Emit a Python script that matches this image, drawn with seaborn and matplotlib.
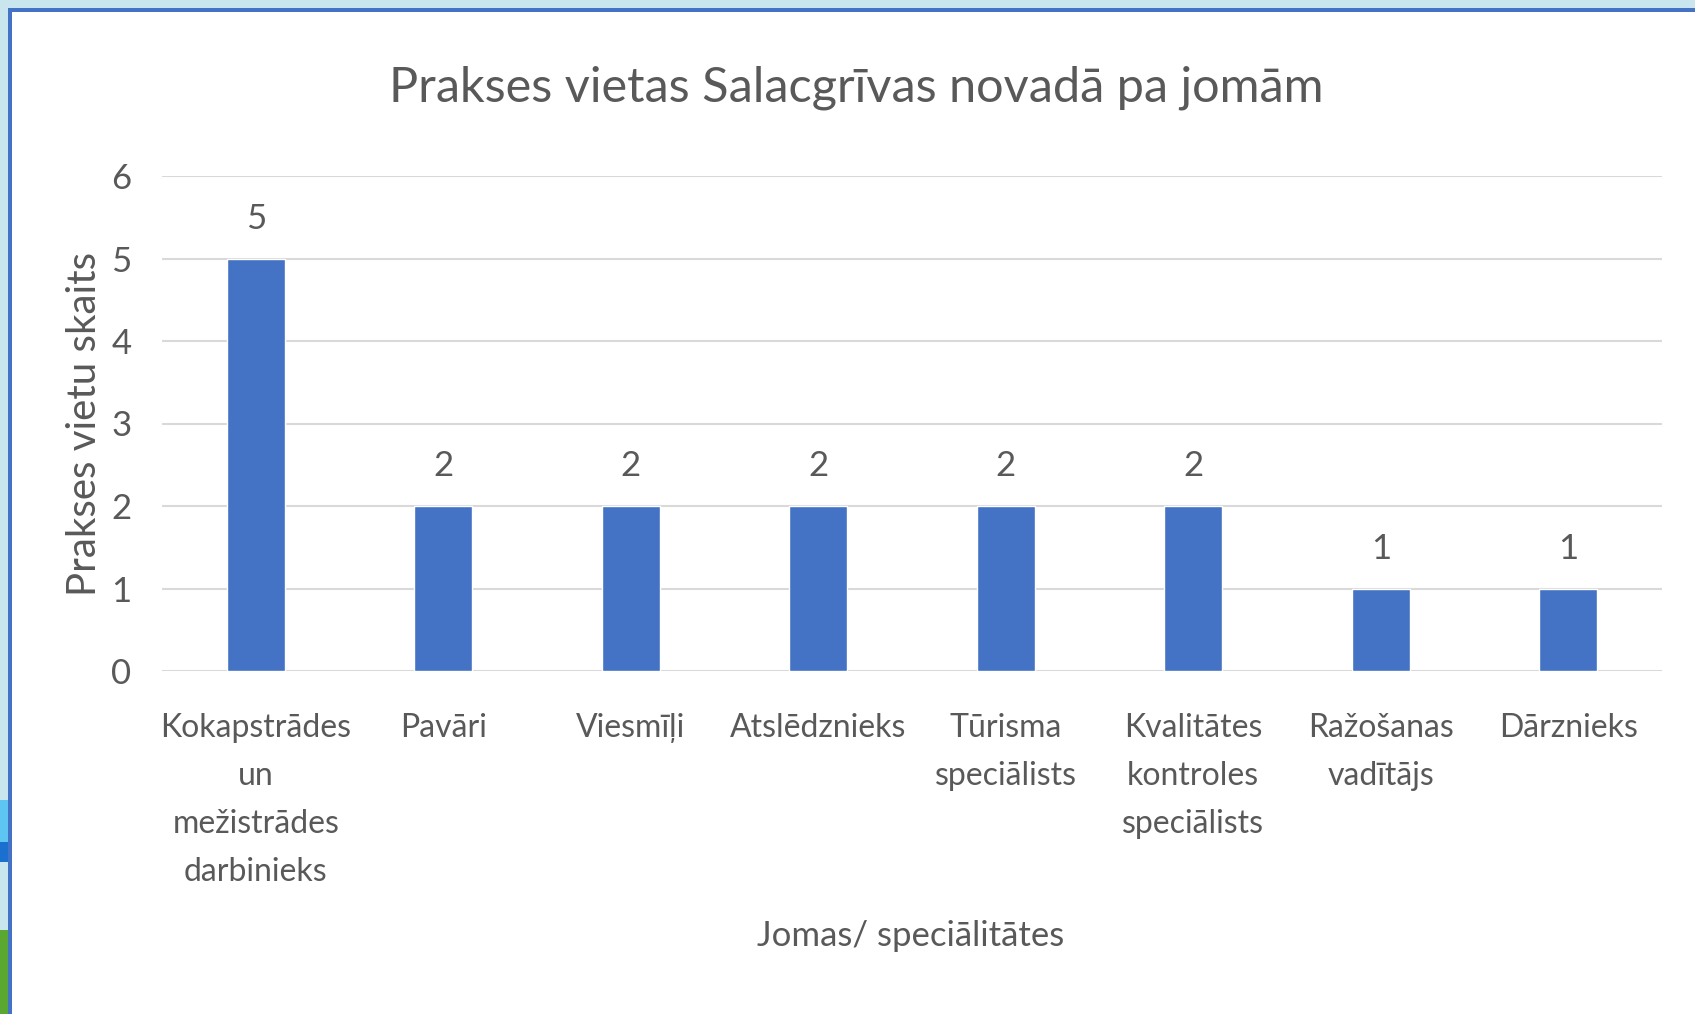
import matplotlib
matplotlib.use("Agg")
import matplotlib.pyplot as plt
import seaborn as sns
import pandas as pd
from matplotlib.patches import Rectangle

# dati
jomas = ["Kokapstrādes\nun\nmežistrādes\ndarbinieks", "Pavāri", "Viesmīļi", "Atslēdznieks",
         "Tūrisma\nspeciālists", "Kvalitātes\nkontroles\nspeciālists", "Ražošanas\nvadītājs", "Dārznieks"]
vietas = [5, 2, 2, 2, 2, 2, 1, 1]
y_ticks = [0, 1, 2, 3, 4, 5, 6]

df = pd.DataFrame({"joma": jomas, "vietas": vietas})

sns.set_style("white")
plt.rcParams["font.family"] = ["Lato", "DejaVu Sans"]

teksts = "#595959"
zils = "#4472C4"

fig = plt.figure(figsize=(16.95, 10.14), dpi=100)
fig.patch.set_facecolor("#C9E6EE")
W, H = 1695, 1014


def kaste(x0, y0, x1, y1, krasa, z):
    # taisnstūris pikseļos (y no augšas)
    fig.patches.append(Rectangle((x0 / W, 1 - y1 / H), (x1 - x0) / W, (y1 - y0) / H,
                                 transform=fig.transFigure, facecolor=krasa,
                                 edgecolor="none", zorder=z))


# fona fragmenti kreisajā malā
kaste(0, 800, 8, 842, "#5EC4F2", -4)
kaste(0, 842, 8, 862, "#1B6FCF", -4)
kaste(0, 930, 8, 1014, "#5AA832", -4)
# balts laukums ar zilu rāmi
kaste(8, 8, W, H, zils, -3)
kaste(12, 12, W, H, "white", -2)

ax = fig.add_axes([162 / W, 1 - 671 / H, 1500 / W, 495 / H])
ax.set_facecolor("none")

sns.barplot(data=df, x="joma", y="vietas", color=zils, width=0.31, saturation=1, ax=ax, zorder=3)
ax.bar_label(ax.containers[0], fontsize=25, color=teksts, padding=17)

ax.set_ylim(0, 6)
ax.set_xlim(-0.5, len(jomas) - 0.5)
ax.set_yticks(y_ticks)
ax.grid(axis="y", color="#D9D9D9", linewidth=1.5, zorder=0)
for s in ax.spines.values():
    s.set_visible(False)
ax.tick_params(axis="both", length=0, labelcolor=teksts)
ax.tick_params(axis="y", pad=22, labelsize=25)
ax.tick_params(axis="x", pad=30, labelsize=23)
for lab in ax.get_xticklabels():
    lab.set_linespacing(1.75)
    lab.set_ha("center")

ax.set_xlabel("")
ax.set_ylabel("Prakses vietu skaits", fontsize=29, color=teksts)
ax.yaxis.set_label_coords(-0.039, 0.5)

fig.text(911 / W, 1 - 936 / H, "Jomas/ speciālitātes", fontsize=25, color=teksts,
         ha="center", va="center")
fig.text(856 / W, 1 - 88 / H, "Prakses vietas Salacgrīvas novadā pa jomām", fontsize=35,
         color=teksts, ha="center", va="center")

fig.savefig("out.png", dpi=100, facecolor=fig.get_facecolor())
